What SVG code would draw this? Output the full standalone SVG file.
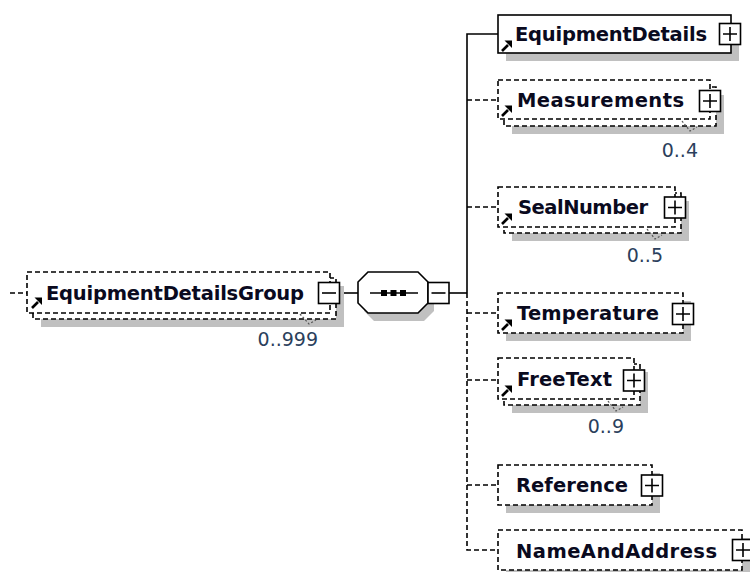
<svg xmlns="http://www.w3.org/2000/svg" xmlns:xlink="http://www.w3.org/1999/xlink" width="750" height="572" viewBox="0 0 750 572">
<style>
.bg{fill:#fff}
.shadow{fill:#c0c0c0}
.box{fill:#fff;stroke:#000;stroke-width:1.6}
.dash{stroke-dasharray:5 3}
.name{font-family:"DejaVu Sans",Verdana,sans-serif;font-weight:bold;font-size:19.5px;fill:#0a0a1e}
.card{font-family:"DejaVu Sans",Verdana,sans-serif;font-size:19px;fill:#2b3f5c}
.conn{stroke:#000;stroke-width:1.6;fill:none}
.notch{stroke:#555;stroke-width:1.2;fill:none;stroke-dasharray:2 2}
</style>
<defs>
<g id="plus">
<rect x="-10.5" y="-10.5" width="21" height="21" fill="#fff" stroke="#000" stroke-width="1.6"/>
<path d="M-7 0H7M0 -7V7" stroke="#000" stroke-width="1.6"/>
</g>
<g id="minus">
<rect x="-10.5" y="-10.5" width="21" height="21" fill="#fff" stroke="#000" stroke-width="1.6"/>
<path d="M-7 0H7" stroke="#000" stroke-width="1.6"/>
</g>
<g id="ref">
<path d="M1 11L7 5" stroke="#000" stroke-width="2.6"/>
<polygon points="3.5,0.5 11,0.5 11,8" fill="#000"/>
</g>
</defs>
<rect class="bg" x="0" y="0" width="750" height="572"/>

<g id="connectors">
<path class="conn dash" d="M10 293H27"/>
<path class="conn" d="M339 293H358"/>
<path class="conn" d="M449 293H467"/>
<path class="conn" d="M467 293V34H498"/>
<path class="conn dash" d="M467 293V550H498"/>
<path class="conn dash" d="M467 100H498M467 207H498M467 313H498M467 380H498M467 485H498"/>
</g>

<g id="node-EquipmentDetailsGroup">
<rect class="shadow" x="41" y="286" width="303" height="41"/>
<rect class="box dash" x="33" y="278" width="303" height="41"/>
<rect class="box dash" x="27" y="272" width="303" height="41"/>
<text class="name" x="46" y="300" textLength="258">EquipmentDetailsGroup</text>
<use xlink:href="#ref" x="31" y="297"/>
<use xlink:href="#minus" x="329" y="293"/>
<polyline class="notch" points="300,314 309,324 316,320"/>
<text class="card" x="318" y="346" text-anchor="end">0..999</text>
</g>

<g id="node-sequence">
<polygon class="shadow" points="374,280 424,280 434,290 434,311 424,321 374,321 364,311 364,290"/>
<polygon class="box" points="368,272 418,272 428,282 428,303 418,313 368,313 358,303 358,282"/>
<path class="conn" d="M370 293H418"/>
<rect x="381" y="290" width="6" height="6" fill="#000"/>
<rect x="390.5" y="290" width="6" height="6" fill="#000"/>
<rect x="400" y="290" width="6" height="6" fill="#000"/>
<use xlink:href="#minus" x="438.5" y="293"/>
</g>

<g id="node-EquipmentDetails">
<rect class="shadow" x="506" y="23" width="233" height="38"/>
<rect class="box" x="498" y="15" width="233" height="38"/>
<text class="name" x="515" y="41" textLength="192">EquipmentDetails</text>
<use xlink:href="#ref" x="501" y="40"/>
<use xlink:href="#plus" x="730" y="34"/>
</g>

<g id="node-Measurements">
<rect class="shadow" x="512" y="95" width="212" height="39"/>
<rect class="box dash" x="504" y="87" width="212" height="39"/>
<rect class="box dash" x="498" y="80" width="212" height="39"/>
<text class="name" x="517" y="107" textLength="167">Measurements</text>
<use xlink:href="#ref" x="501" y="105"/>
<use xlink:href="#plus" x="710" y="101"/>
<polyline class="notch" points="682,121 690,131 697,127"/>
<text class="card" x="698" y="157" text-anchor="end">0..4</text>
</g>

<g id="node-SealNumber">
<rect class="shadow" x="512" y="201" width="177" height="40"/>
<rect class="box dash" x="504" y="193" width="177" height="40"/>
<rect class="box dash" x="498" y="187" width="177" height="40"/>
<text class="name" x="518" y="214" textLength="130">SealNumber</text>
<use xlink:href="#ref" x="501" y="213"/>
<use xlink:href="#plus" x="675" y="207.5"/>
<polyline class="notch" points="647,229 655,239 662,235"/>
<text class="card" x="663" y="262" text-anchor="end">0..5</text>
</g>

<g id="node-Temperature">
<rect class="shadow" x="506" y="301" width="185" height="40"/>
<rect class="box dash" x="498" y="293" width="185" height="40"/>
<text class="name" x="517" y="320" textLength="142">Temperature</text>
<use xlink:href="#ref" x="501" y="319"/>
<use xlink:href="#plus" x="683" y="314"/>
</g>

<g id="node-FreeText">
<rect class="shadow" x="512" y="372" width="136" height="41"/>
<rect class="box dash" x="504" y="364" width="136" height="41"/>
<rect class="box dash" x="498" y="358" width="136" height="41"/>
<text class="name" x="517" y="386" textLength="95">FreeText</text>
<use xlink:href="#ref" x="501" y="385"/>
<use xlink:href="#plus" x="634" y="380.5"/>
<polyline class="notch" points="608,401 616,411 623,407"/>
<text class="card" x="624" y="433" text-anchor="end">0..9</text>
</g>

<g id="node-Reference">
<rect class="shadow" x="506" y="473" width="154" height="40"/>
<rect class="box dash" x="498" y="465" width="154" height="40"/>
<text class="name" x="516" y="492" textLength="112">Reference</text>
<use xlink:href="#plus" x="652" y="485.5"/>
</g>

<g id="node-NameAndAddress">
<rect class="shadow" x="506" y="538" width="244" height="40"/>
<rect class="box dash" x="498" y="530" width="244" height="40"/>
<text class="name" x="516" y="558" textLength="201">NameAndAddress</text>
<use xlink:href="#plus" x="743" y="550"/>
</g>
</svg>
